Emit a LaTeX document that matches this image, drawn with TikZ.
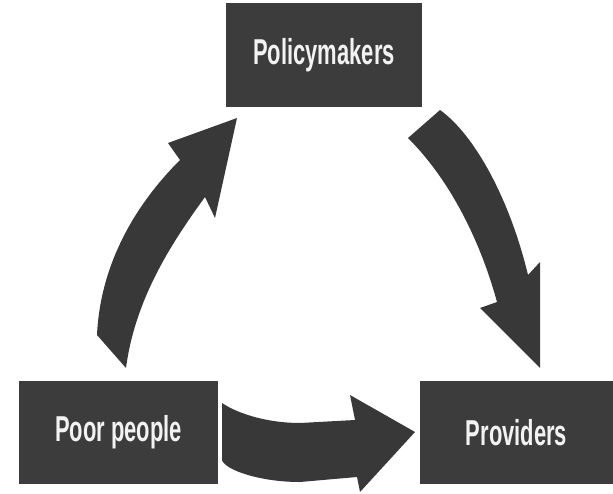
\documentclass[tikz,border=0pt]{standalone}
\usepackage{fontspec}
\usepackage{graphicx}
\setmainfont{Liberation Sans}
\definecolor{boxgray}{HTML}{3C3C3C}
\definecolor{arrowgray}{HTML}{383838}
\definecolor{labelwhite}{HTML}{F2F2F2}
\newcommand{\narrowlabel}[1]{\scalebox{0.61}[1]{\bfseries #1}}
\begin{document}
\begin{tikzpicture}[x=1pt,y=-1pt,
  actor/.style={fill=boxgray, draw=none, rectangle, inner sep=0pt,
    text=labelwhite, font=\fontsize{36}{40}\selectfont},
  blockarrow/.style={fill=arrowgray, draw=none}]
\useasboundingbox (0,0) rectangle (613,493);

% the three actors
\node[actor, minimum width=196pt, minimum height=104pt] (policy) at (324,55) {\narrowlabel{Policymakers}};
\node[actor, minimum width=199pt, minimum height=103pt] (poor) at (118.5,432.5) {\narrowlabel{Poor people}};
\node[actor, minimum width=193pt, minimum height=103pt] (prov) at (516.5,432.5) {\narrowlabel{Providers}};

% poor people -> policymakers
\fill[blockarrow] (97,335) .. controls (100,270) and (130,210) .. (180,160)
  -- (168,143) -- (237,118) -- (215,218) -- (205,197)
  .. controls (170,245) and (135,300) .. (126,368) -- cycle;

% policymakers -> providers
\fill[blockarrow] (408,138) -- (440,110)
  .. controls (475,135) and (510,200) .. (528,275)
  -- (540,262) -- (540,368) -- (480,308) -- (497,302)
  .. controls (480,240) and (450,180) .. cycle;

% poor people -> providers
\fill[blockarrow] (222,403) .. controls (240,415) and (270,423) .. (300,423)
  -- (355,420) -- (350,395) -- (415,432) -- (360,492) -- (357,477)
  -- (300,482) .. controls (260,482) and (225,470) .. (222,460) -- cycle;
\end{tikzpicture}
\end{document}
